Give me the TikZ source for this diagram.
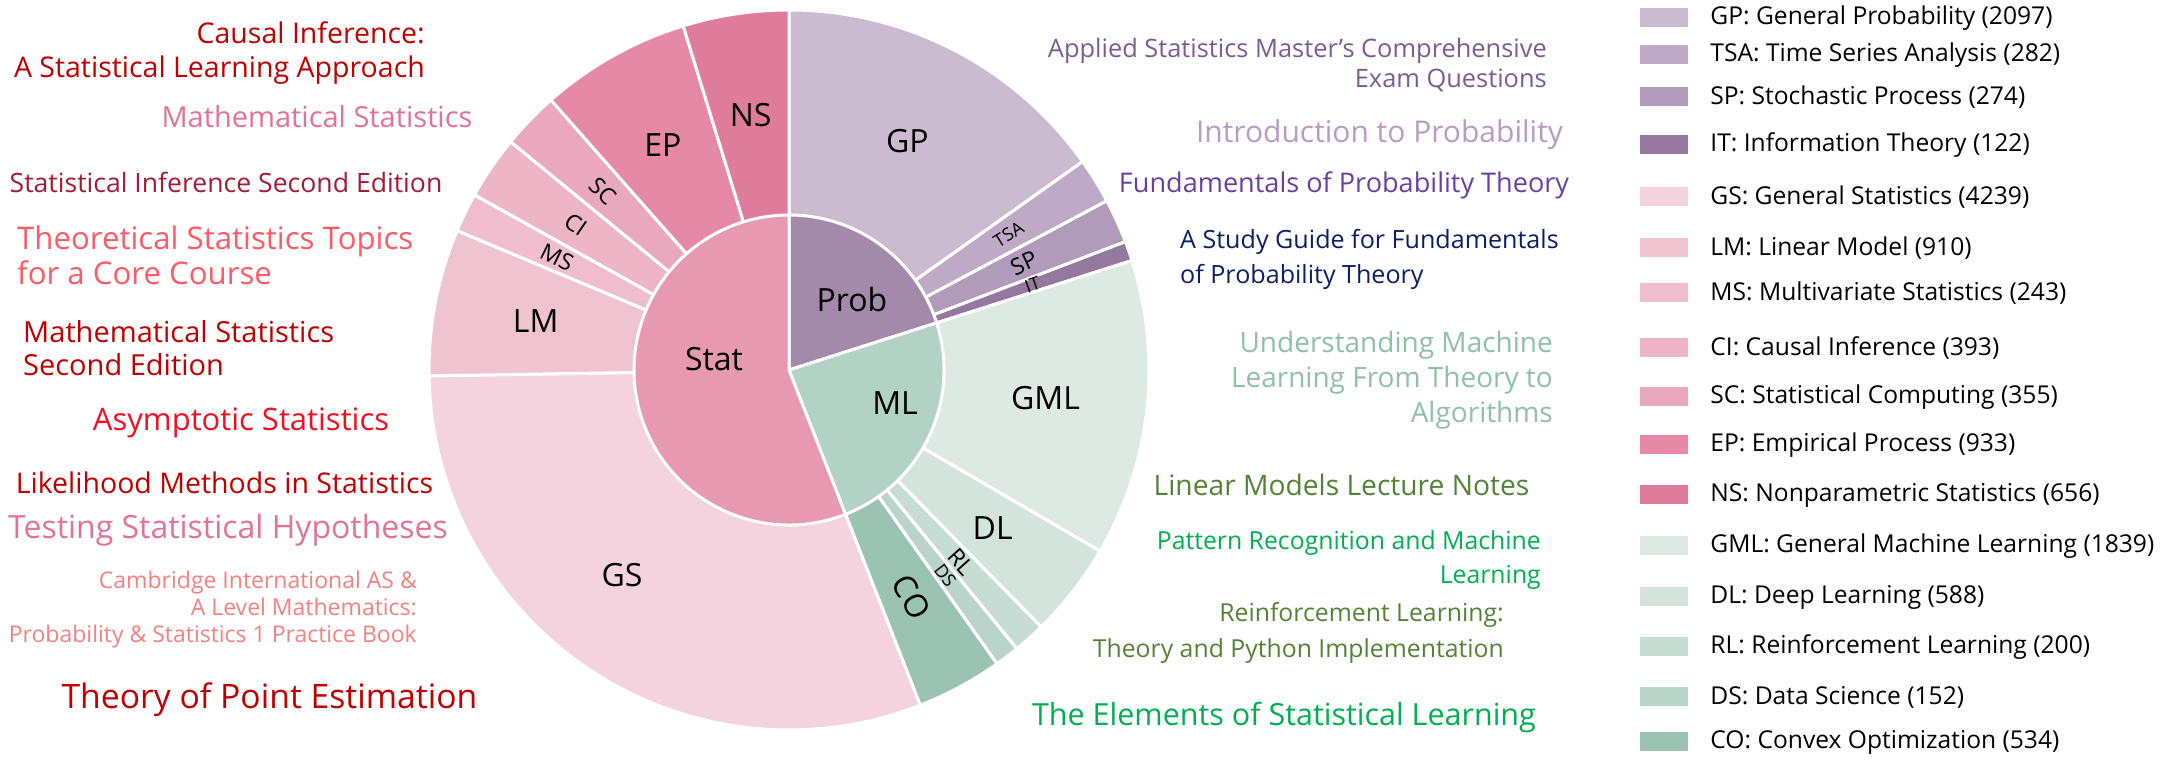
\documentclass[tikz,border=0pt]{standalone}
\usepackage{fontspec}
\setmainfont{Open Sans}
\usepackage{tikz}
\usetikzlibrary{
  calc,
  positioning,
}
\tikzstyle{part} = [draw=white, line width=3pt, line join=round]
\tikzstyle{ringlabel} = [font=\fontsize{32}{38}\selectfont, inner sep=0pt]
\tikzstyle{smalllabel} = [font=\fontsize{23}{27}\selectfont, inner sep=0pt]
\tikzstyle{tinylabel} = [font=\fontsize{18}{22}\selectfont, inner sep=0pt]
\tikzstyle{swatch} = [rectangle, minimum width=48, minimum height=19, inner sep=0pt]
\tikzstyle{legendtext} = [font=\fontsize{24.6}{29}\selectfont, inner sep=0pt]
\tikzstyle{book} = [inner sep=0pt]
\definecolor{gpcol}{RGB}{203, 187, 209}
\definecolor{tsacol}{RGB}{190, 169, 198}
\definecolor{spcol}{RGB}{176, 155, 187}
\definecolor{itcol}{RGB}{148, 120, 159}
\definecolor{probcol}{RGB}{163, 137, 170}
\definecolor{gmlcol}{RGB}{221, 233, 227}
\definecolor{dlcol}{RGB}{210, 228, 220}
\definecolor{rlcol}{RGB}{198, 221, 212}
\definecolor{dscol}{RGB}{185, 213, 202}
\definecolor{cocol}{RGB}{155, 195, 178}
\definecolor{mlcol}{RGB}{178, 210, 197}
\definecolor{gscol}{RGB}{244, 211, 222}
\definecolor{lmcol}{RGB}{240, 195, 208}
\definecolor{mscol}{RGB}{239, 189, 205}
\definecolor{cicol}{RGB}{237, 181, 198}
\definecolor{sccol}{RGB}{233, 168, 189}
\definecolor{epcol}{RGB}{229, 137, 167}
\definecolor{nscol}{RGB}{223, 123, 155}
\definecolor{statcol}{RGB}{230, 153, 176}
\definecolor{darkred}{RGB}{192, 0, 0}
\definecolor{brightred}{RGB}{240, 16, 32}
\definecolor{mspink}{RGB}{226, 115, 150}
\definecolor{crimson}{RGB}{160, 28, 56}
\definecolor{coral}{RGB}{255, 90, 102}
\definecolor{salmon}{RGB}{245, 128, 128}
\definecolor{mutedpurple}{RGB}{125, 90, 145}
\definecolor{lightpurple}{RGB}{184, 156, 194}
\definecolor{violet}{RGB}{107, 63, 160}
\definecolor{navy}{RGB}{12, 30, 100}
\definecolor{lightteal}{RGB}{143, 192, 168}
\definecolor{olive}{RGB}{84, 130, 53}
\definecolor{brightgreen}{RGB}{0, 176, 80}
\newcommand{\ringpart}[4]{\filldraw[part, fill=#1] (c) -- ++(#2:#4) arc[start angle=#2, end angle=#3, radius=#4] -- cycle;}

\begin{document}
\begin{tikzpicture}[x=1pt, y=1pt, node distance=0mm and 22pt]
    \useasboundingbox (0,0) rectangle (2164,762);
    \coordinate (c) at (789,392);

    % outer ring
    \ringpart{gpcol}{90}{35.363}{360}
    \ringpart{tsacol}{35.363}{28.016}{360}
    \ringpart{spcol}{28.016}{20.876}{360}
    \ringpart{itcol}{20.876}{17.698}{360}
    \ringpart{gmlcol}{17.698}{-30.218}{360}
    \ringpart{dlcol}{-30.218}{-45.537}{360}
    \ringpart{rlcol}{-45.537}{-50.748}{360}
    \ringpart{dscol}{-50.748}{-54.709}{360}
    \ringpart{cocol}{-54.709}{-68.622}{360}
    \ringpart{gscol}{-68.622}{-179.069}{360}
    \ringpart{lmcol}{-179.069}{-202.779}{360}
    \ringpart{mscol}{-202.779}{-209.110}{360}
    \ringpart{cicol}{-209.110}{-219.350}{360}
    \ringpart{sccol}{-219.350}{-228.599}{360}
    \ringpart{epcol}{-228.599}{-252.909}{360}
    \ringpart{nscol}{-252.909}{-270}{360}

    % inner ring
    \ringpart{probcol}{90}{17.698}{155}
    \ringpart{mlcol}{17.698}{-68.622}{155}
    \ringpart{statcol}{-68.622}{-270}{155}

    \node[ringlabel] (gp) at ($(c)+(62.68:258)$) {GP};
    \node[tinylabel, rotate=31.69] (tsa) at ($(c)+(31.69:258)$) {TSA};
    \node[smalllabel, rotate=24.45] (sp) at ($(c)+(24.45:258)$) {SP};
    \node[tinylabel, rotate=19.29] (it) at ($(c)+(19.29:258)$) {IT};
    \node[ringlabel] (gml) at ($(c)+(-6.26:258)$) {GML};
    \node[ringlabel] (dl) at ($(c)+(-37.88:258)$) {DL};
    \node[smalllabel, rotate=-48.14] (rl) at ($(c)+(-48.14:258)$) {RL};
    \node[tinylabel, rotate=-52.73] (ds) at ($(c)+(-52.73:258)$) {DS};
    \node[ringlabel, rotate=-61.67] (co) at ($(c)+(-61.67:258)$) {CO};
    \node[ringlabel] (gs) at (622,187) {GS};
    \node[ringlabel] (lm) at ($(c)+(-190.92:258)$) {LM};
    \node[smalllabel, rotate=-25.94] (ms) at ($(c)+(-205.94:258)$) {MS};
    \node[smalllabel, rotate=-34.23] (ci) at ($(c)+(-214.23:258)$) {CI};
    \node[smalllabel, rotate=-43.97] (sc) at ($(c)+(-223.97:258)$) {SC};
    \node[ringlabel] (ep) at ($(c)+(-240.75:258)$) {EP};
    \node[ringlabel] (ns) at ($(c)+(-261.45:258)$) {NS};

    \node[ringlabel] (stat) at (714,403) {Stat};
    \node[ringlabel] (prob) at (852,462) {Prob};
    \node[ringlabel] (ml) at (895,359) {ML};

    % books, left
    \node[book, anchor=east, align=right, text=darkred, font=\fontsize{28.5}{34}\selectfont] (causal) at (425,709) {Causal Inference:\\A Statistical Learning Approach};
    \node[book, text=mspink, font=\fontsize{29}{34}\selectfont] (mathstat) at (317,645) {Mathematical Statistics};
    \node[book, text=crimson, font=\fontsize{26.6}{32}\selectfont] (statinf) at (226,580) {Statistical Inference Second Edition};
    \node[book, anchor=west, align=left, text=coral, font=\fontsize{31.2}{35}\selectfont] (theostat) at (17,506.5) {Theoretical Statistics Topics\\for a Core Course};
    \node[book, anchor=west, align=left, text=darkred, font=\fontsize{29}{33}\selectfont] (mathstattwo) at (23,413.5) {Mathematical Statistics\\Second Edition};
    \node[book, text=brightred, font=\fontsize{31}{36}\selectfont] (asym) at (241,339) {Asymptotic Statistics};
    \node[book, text=darkred, font=\fontsize{28.5}{34}\selectfont] (likeli) at (224.5,279) {Likelihood Methods in Statistics};
    \node[book, text=mspink, font=\fontsize{32}{38}\selectfont] (testing) at (228,232) {Testing Statistical Hypotheses};
    \node[book, anchor=east, align=right, text=salmon, font=\fontsize{23}{27}\selectfont] (cambridge) at (417,152) {Cambridge International AS \&\\A Level Mathematics:\\Probability \& Statistics 1 Practice Book};
    \node[book, text=darkred, font=\fontsize{33.7}{40}\selectfont] (pointest) at (269.5,62) {Theory of Point Estimation};

    % books, right
    \node[book, anchor=east, align=right, text=mutedpurple, font=\fontsize{25.4}{30}\selectfont] (applied) at (1547,697) {Applied Statistics Master's Comprehensive\\Exam Questions};
    \node[book, text=lightpurple, font=\fontsize{30}{36}\selectfont] (introprob) at (1379.5,627) {Introduction to Probability};
    \node[book, text=violet, font=\fontsize{27.1}{33}\selectfont] (fundprob) at (1344,577) {Fundamentals of Probability Theory};
    \node[book, anchor=west, align=left, text=navy, font=\fontsize{25.1}{35}\selectfont] (studyguide) at (1180,502.5) {A Study Guide for Fundamentals\\of Probability Theory};
    \node[book, anchor=east, align=right, text=lightteal, font=\fontsize{28}{35}\selectfont] (understanding) at (1553,382) {Understanding Machine\\Learning From Theory to\\Algorithms};
    \node[book, text=olive, font=\fontsize{28.2}{34}\selectfont] (linmod) at (1341.5,277) {Linear Models Lecture Notes};
    \node[book, anchor=east, align=right, text=brightgreen, font=\fontsize{24.8}{34}\selectfont] (pattern) at (1541,202) {Pattern Recognition and Machine\\Learning};
    \node[book, anchor=east, align=right, text=olive, font=\fontsize{24.8}{36}\selectfont] (reinforce) at (1504,129) {Reinforcement Learning:\\Theory and Python Implementation};
    \node[book, text=brightgreen, font=\fontsize{30.5}{36}\selectfont] (elements) at (1284,45) {The Elements of Statistical Learning};

    % legend
    \node[swatch, fill=gpcol] (kgp) at (1664,744) {};
    \node[legendtext, right=of kgp] (tgp) {GP: General Probability (2097)};
    \node[swatch, fill=tsacol] (ktsa) at (1664,707) {};
    \node[legendtext, right=of ktsa] (ttsa) {TSA: Time Series Analysis (282)};
    \node[swatch, fill=spcol] (ksp) at (1664,665) {};
    \node[legendtext, right=of ksp] (tsp) {SP: Stochastic Process (274)};
    \node[swatch, fill=itcol] (kit) at (1664,617) {};
    \node[legendtext, right=of kit] (tit) {IT: Information Theory (122)};
    \node[swatch, fill=gscol] (kgs) at (1664,565) {};
    \node[legendtext, right=of kgs] (tgs) {GS: General Statistics (4239)};
    \node[swatch, fill=lmcol] (klm) at (1664,514) {};
    \node[legendtext, right=of klm] (tlm) {LM: Linear Model (910)};
    \node[swatch, fill=mscol] (kms) at (1664,469) {};
    \node[legendtext, right=of kms] (tms) {MS: Multivariate Statistics (243)};
    \node[swatch, fill=cicol] (kci) at (1664,414) {};
    \node[legendtext, right=of kci] (tci) {CI: Causal Inference (393)};
    \node[swatch, fill=sccol] (ksc) at (1664,365) {};
    \node[legendtext, right=of ksc] (tsc) {SC: Statistical Computing (355)};
    \node[swatch, fill=epcol] (kep) at (1664,317) {};
    \node[legendtext, right=of kep] (tep) {EP: Empirical Process (933)};
    \node[swatch, fill=nscol] (kns) at (1664,267) {};
    \node[legendtext, right=of kns] (tns) {NS: Nonparametric Statistics (656)};
    \node[swatch, fill=gmlcol] (kgml) at (1664,216) {};
    \node[legendtext, right=of kgml] (tgml) {GML: General Machine Learning (1839)};
    \node[swatch, fill=dlcol] (kdl) at (1664,165) {};
    \node[legendtext, right=of kdl] (tdl) {DL: Deep Learning (588)};
    \node[swatch, fill=rlcol] (krl) at (1664,115) {};
    \node[legendtext, right=of krl] (trl) {RL: Reinforcement Learning (200)};
    \node[swatch, fill=dscol] (kds) at (1664,65) {};
    \node[legendtext, right=of kds] (tds) {DS: Data Science (152)};
    \node[swatch, fill=cocol] (kco) at (1664,20) {};
    \node[legendtext, right=of kco] (tco) {CO: Convex Optimization (534)};
\end{tikzpicture}
\end{document}
